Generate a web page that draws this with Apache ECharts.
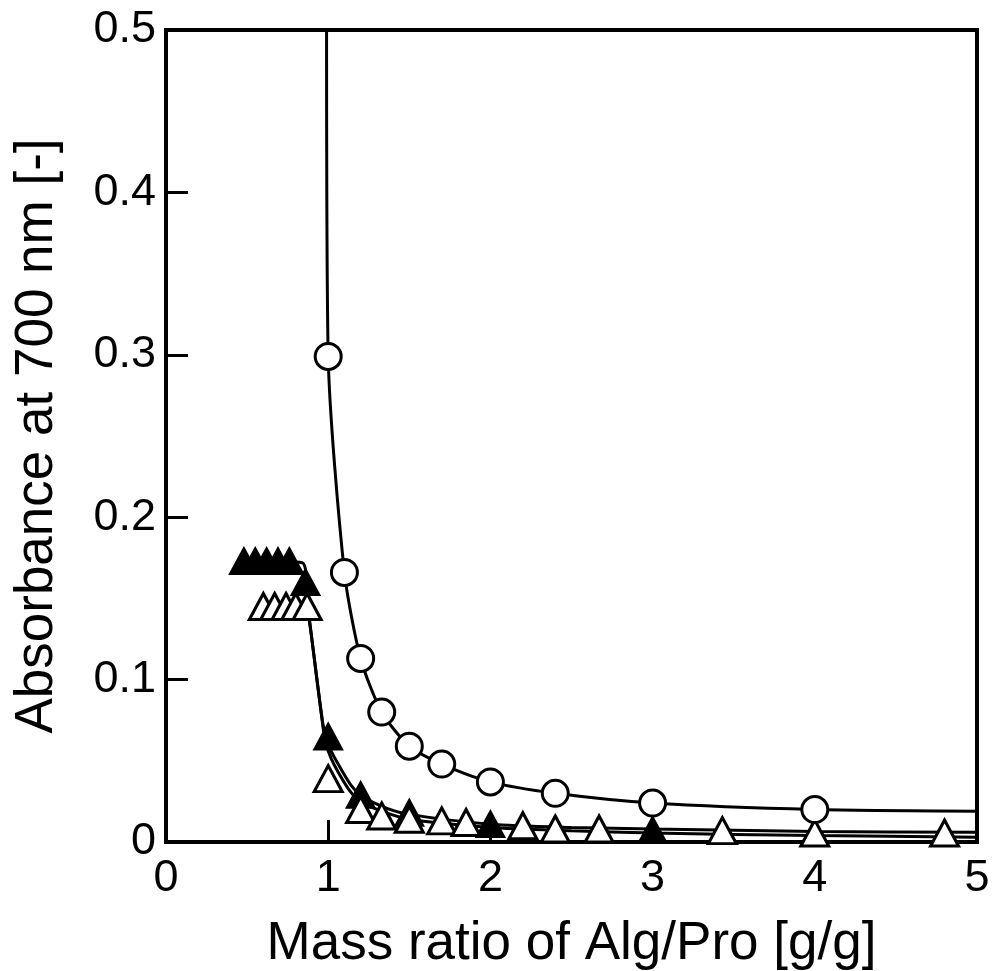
<!DOCTYPE html>
<html>
<head>
<meta charset="utf-8">
<script src="https://cdn.jsdelivr.net/npm/echarts@6/dist/echarts.min.js"></script>
<style>
html,body{margin:0;padding:0;background:#fff;}
#chart{width:997px;height:971px;}
</style>
</head>
<body>
<div id="chart"></div>
<script>
// Tick labels
var xTicks = [0, 1, 2, 3, 4, 5];
var yTicks = [0, 0.1, 0.2, 0.3, 0.4, 0.5];

// Open circles
var circleX = [1.0, 1.1, 1.2, 1.33, 1.5, 1.7, 2.0, 2.4, 3.0, 4.0];
var circleY = [0.299, 0.166, 0.113, 0.080, 0.059, 0.048, 0.037, 0.030, 0.024, 0.020];

// Filled triangles
var filledX = [0.48, 0.55, 0.62, 0.69, 0.76, 0.86, 1.0, 1.2, 1.5, 2.0, 3.0];
var filledY = [0.173, 0.173, 0.173, 0.173, 0.173, 0.160, 0.065, 0.029, 0.018, 0.011, 0.0075];

// Open triangles
var openX = [0.60, 0.67, 0.74, 0.80, 0.87, 1.0, 1.2, 1.33, 1.5, 1.7, 1.85, 2.2, 2.4, 2.67, 3.43, 4.0, 4.8];
var openY = [0.145, 0.145, 0.145, 0.145, 0.145, 0.039, 0.020, 0.016, 0.014, 0.013, 0.012, 0.010, 0.008, 0.008, 0.007, 0.0055, 0.0055];

// Fitted curves
var fitCircleX = [0.99, 1.0, 1.1, 1.2, 1.33, 1.5, 1.7, 2.0, 2.4, 3.0, 4.0, 5.0];
var fitCircleY = [0.5, 0.299, 0.166, 0.113, 0.080, 0.059, 0.048, 0.037, 0.030, 0.024, 0.020, 0.019];

var fitFilledX = [0.48, 0.84, 0.875, 0.93, 0.975, 1.0, 1.05, 1.14, 1.2, 1.33, 1.5, 2.0, 2.5, 3.0, 4.0, 5.0];
var fitFilledY = [0.173, 0.172, 0.145, 0.100, 0.068, 0.060, 0.050, 0.035, 0.029, 0.022, 0.017, 0.011, 0.009, 0.008, 0.0065, 0.006];

var fitOpenX = [0.60, 0.86, 0.885, 0.935, 0.975, 1.0, 1.04, 1.13, 1.2, 1.33, 1.5, 2.0, 2.5, 3.0, 4.0, 5.0];
var fitOpenY = [0.145, 0.145, 0.135, 0.097, 0.066, 0.056, 0.047, 0.032, 0.025, 0.019, 0.014, 0.009, 0.007, 0.0055, 0.004, 0.003];

function pairs(xs, ys) { return xs.map(function (x, i) { return [x, ys[i]]; }); }

var FONT = '"Liberation Sans", Arial, sans-serif';
var chart = echarts.init(document.getElementById('chart'), null, {renderer: 'canvas'});

function fitSeries(xs, ys) {
  return {
    type: 'line', data: pairs(xs, ys), showSymbol: false, symbol: 'none',
    smooth: 0.25,
    lineStyle: {color: '#000', width: 3}, silent: true, z: 2, clip: true
  };
}

chart.setOption({
  animation: false,
  backgroundColor: '#fff',
  grid: {left: 166, right: 20, top: 30, bottom: 129, containLabel: false, outerBoundsMode: 'none',
         show: true, borderColor: '#000', borderWidth: 4, backgroundColor: 'transparent'},
  xAxis: {
    type: 'value', min: xTicks[0], max: xTicks[xTicks.length - 1], interval: 1,
    name: 'Mass ratio of Alg/Pro [g/g]', nameLocation: 'middle', nameGap: 76,
    nameTextStyle: {fontFamily: FONT, fontSize: 53, color: '#000'},
    axisLine: {show: true, lineStyle: {color: '#000', width: 4}},
    axisTick: {show: true, inside: true, length: 22, lineStyle: {color: '#000', width: 3}},
    axisLabel: {fontFamily: FONT, fontSize: 45, color: '#000', margin: 14},
    splitLine: {show: false}
  },
  yAxis: {
    type: 'value', min: yTicks[0], max: yTicks[yTicks.length - 1], interval: 0.1,
    name: 'Absorbance at 700 nm [-]', nameLocation: 'middle', nameGap: 102,
    nameTextStyle: {fontFamily: FONT, fontSize: 53, color: '#000'},
    axisLine: {show: true, lineStyle: {color: '#000', width: 4}},
    axisTick: {show: true, inside: true, length: 22, lineStyle: {color: '#000', width: 3}},
    axisLabel: {fontFamily: FONT, fontSize: 45, color: '#000', margin: 10},
    splitLine: {show: false}
  },
  series: [
    fitSeries(fitCircleX, fitCircleY),
    fitSeries(fitFilledX, fitFilledY),
    fitSeries(fitOpenX, fitOpenY),
    {
      type: 'scatter', data: pairs(filledX, filledY), symbol: 'triangle', symbolSize: [28, 26],
      itemStyle: {color: '#000', borderColor: '#000', borderWidth: 2, opacity: 1}, z: 3
    },
    {
      type: 'scatter', data: pairs(openX, openY), symbol: 'triangle', symbolSize: [28, 26],
      itemStyle: {color: '#fff', borderColor: '#000', borderWidth: 3, opacity: 1}, z: 4
    },
    {
      type: 'scatter', data: pairs(circleX, circleY), symbol: 'circle', symbolSize: 26,
      itemStyle: {color: '#fff', borderColor: '#000', borderWidth: 3, opacity: 1}, z: 5
    }
  ]
});
</script>
</body>
</html>
